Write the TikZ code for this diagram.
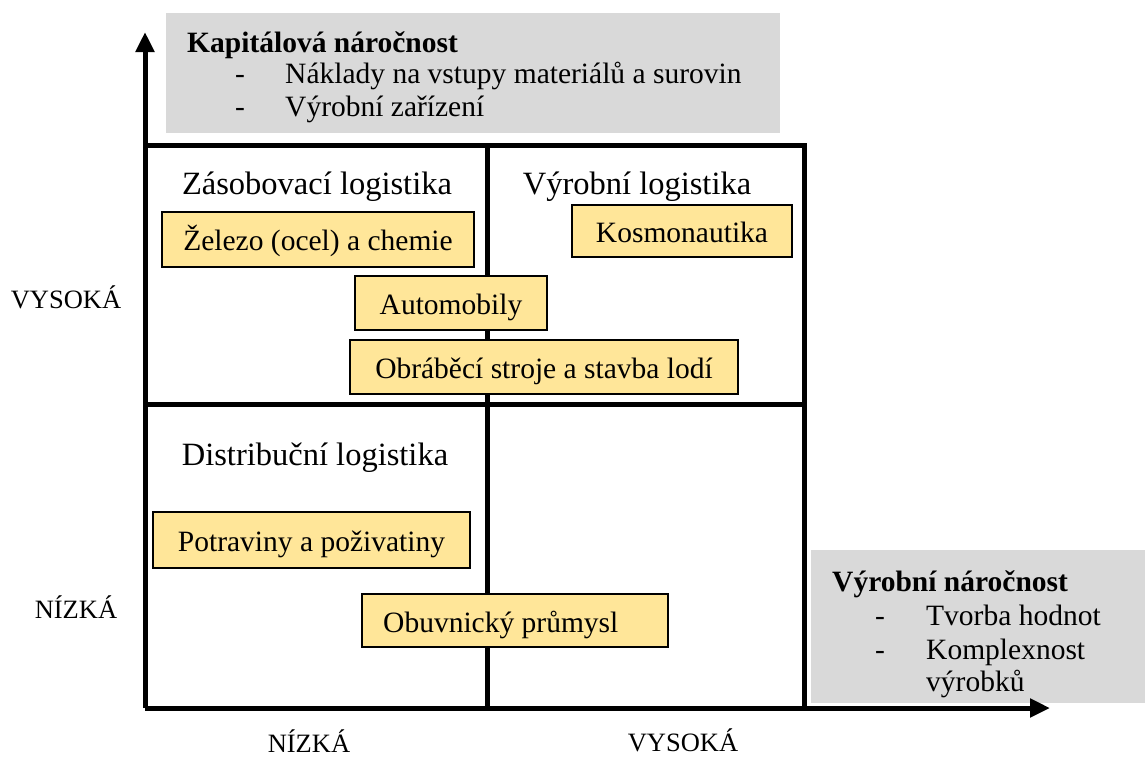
\documentclass[tikz,border=0pt]{standalone}
\usepackage{fontspec}
\setmainfont{Liberation Serif}
\usetikzlibrary{arrows.meta}
\definecolor{boxgray}{HTML}{D9D9D9}
\definecolor{boxyellow}{HTML}{FFE699}
\tikzset{
  axis/.style={line width=5pt, -{Triangle[length=20pt,width=18pt]}},
  grid/.style={line width=5pt},
  txt/.style={font=\fontsize{29.5}{33}\selectfont, inner sep=0pt, anchor=base},
  txtw/.style={txt, anchor=base west},
  bold/.style={font=\fontsize{29.5}{33}\selectfont\bfseries},
  qtitle/.style={txt, font=\fontsize{32.5}{36}\selectfont},
  level/.style={txt, font=\fontsize{26.5}{30}\selectfont},
  ybox/.style={draw=black, line width=2pt, fill=boxyellow},
}
% yellow industry box: name, x1, y1, x2, y2, text (text centred, baseline 11 below centre)
\newcommand{\yb}[6]{%
  \path[ybox] (#2,#3) rectangle (#4,#5);
  \node[txt] (#1) at ({(#2+#4)/2},{(#3+#5)/2+11}) {#6};}
\begin{document}
\begin{tikzpicture}[x=1pt,y=-1pt]
\useasboundingbox (0,0) rectangle (1145,758);

% shaded legend panels
\fill[boxgray] (166,13) rectangle (780,133);
\fill[boxgray] (811,550) rectangle (1145,703);

% legend texts
\node[txtw, bold] (kap) at (187,52) {Kapitálová náročnost};
\node[txt] (d1) at (240,83) {-};
\node[txtw] (kap1) at (285,83) {Náklady na vstupy materiálů a surovin};
\node[txt] (d2) at (240,116) {-};
\node[txtw] (kap2) at (285,116) {Výrobní zařízení};

\node[txtw, bold] (vyr) at (832,591) {Výrobní náročnost};
\node[txt] (d3) at (880,625) {-};
\node[txtw] (vyr1) at (926,625) {Tvorba hodnot};
\node[txt] (d4) at (880,659) {-};
\node[txtw] (vyr2) at (926,659) {Komplexnost};
\node[txtw] (vyr3) at (926,691) {výrobků};

% axes
\coordinate (o) at (145,708);
\coordinate (ytip) at (145,32);
\coordinate (xtip) at (1050,708);
\draw[axis] (o) -- (ytip);
\draw[axis] (o) -- (xtip);

% quadrant grid
\coordinate (tl) at (145,145);
\coordinate (tr) at (807,145);
\coordinate (ml) at (145,404);
\coordinate (mr) at (802,404);
\coordinate (tm) at (487,145);
\coordinate (bm) at (487,708);
\coordinate (rt) at (804,145);
\coordinate (rb) at (804,710);
\draw[grid] (tl) -- (tr);
\draw[grid] (ml) -- (mr);
\draw[grid] (tm) -- (bm);
\draw[grid] (rt) -- (rb);

% quadrant titles
\node[qtitle] (zas) at (317,194) {Zásobovací logistika};
\node[qtitle] (vyl) at (637,194) {Výrobní logistika};
\node[qtitle] (dis) at (315,465) {Distribuční logistika};

% industries
\yb{zel}{162}{212}{474}{267}{Železo (ocel) a chemie}
\yb{kos}{572}{205}{792}{257}{Kosmonautika}
\yb{aut}{355}{276}{547}{330}{Automobily}
\yb{obr}{350}{340}{738}{394}{Obráběcí stroje a stavba lodí}
\yb{pot}{153}{512}{470}{568}{Potraviny a poživatiny}
\path[ybox] (362,594) rectangle (668,647);
\node[txtw] (obu) at (383,632) {Obuvnický průmysl};

% axis levels
\node[level] (vy1) at (66,308) {VYSOKÁ};
\node[level] (ni1) at (76,618) {NÍZKÁ};
\node[level] (ni2) at (309,752) {NÍZKÁ};
\node[level] (vy2) at (683,751) {VYSOKÁ};
\end{tikzpicture}
\end{document}
